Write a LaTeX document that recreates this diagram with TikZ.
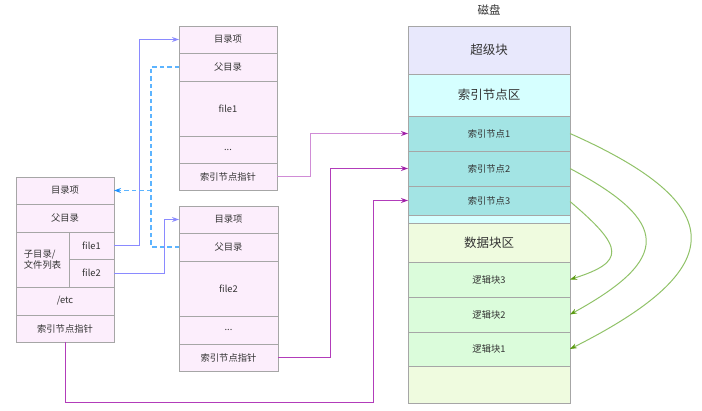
\documentclass[tikz,border=0pt]{standalone}
\usepackage{fontspec}
\setmainfont{Noto Sans CJK SC}
\usetikzlibrary{arrows.meta}
\definecolor{dirfill}{HTML}{FCEEFC}
\definecolor{cellline}{HTML}{A6A6A6}
\definecolor{superfill}{HTML}{E8E8FC}
\definecolor{inoarea}{HTML}{D6FFFF}
\definecolor{inofill}{HTML}{A3E4E4}
\definecolor{datafill}{HTML}{EFFBDF}
\definecolor{blkfill}{HTML}{DBFCDB}
\definecolor{txt}{HTML}{333333}
\definecolor{blueln}{HTML}{8A8AFF}
\definecolor{dashln}{HTML}{5CB4FF}
\definecolor{dashtip}{HTML}{1E90FF}
\definecolor{purpA}{HTML}{D08CD6}
\definecolor{purpB}{HTML}{B23CBA}
\definecolor{purptip}{HTML}{A020A8}
\definecolor{greenln}{HTML}{90C268}
\definecolor{greentip}{HTML}{5A9A10}
\begin{document}
\begin{tikzpicture}[x=1pt,y=-1pt,
  cell/.style={draw=cellline,line width=0.8pt,fill=dirfill,anchor=north west,inner sep=0pt,outer sep=0pt,text=txt,font=\fontsize{9.3}{11}\selectfont},
  big/.style={font=\fontsize{12.5}{14}\selectfont},
  bluearrow/.style={draw=blueln,line width=1pt,-{Stealth[length=7pt,width=5pt,fill=blueln,color=blueln]}},
  dasharrow/.style={draw=dashln,line width=1.1pt,dash pattern=on 4.5pt off 3pt},
  purparrow/.style={line width=1pt,-{Stealth[length=7pt,width=5pt,fill=purptip,color=purptip]}},
  greenarrow/.style={draw=greenln,line width=1pt,-{Stealth[length=7pt,width=5pt,fill=greentip,color=greentip]}}
]
\useasboundingbox (0,0) rectangle (702,411);

% left directory box
\node[cell,minimum width=98pt,minimum height=27pt] (L1) at (16,177) {目录项};
\node[cell,minimum width=98pt,minimum height=28pt] (L2) at (16,204) {父目录};
\node[cell,minimum width=53pt,minimum height=55pt,align=left] (L3) at (16,232) {子目录/\\文件列表};
\node[cell,minimum width=45pt,minimum height=27.5pt] (L4) at (69,232) {file1};
\node[cell,minimum width=45pt,minimum height=27.5pt] (L5) at (69,259.5) {file2};
\node[cell,minimum width=98pt,minimum height=28pt] (L6) at (16,287) {/etc};
\node[cell,minimum width=98pt,minimum height=27pt] (L7) at (16,315) {索引节点指针};

% top middle box
\node[cell,minimum width=98pt,minimum height=27pt] (T1) at (179,26) {目录项};
\node[cell,minimum width=98pt,minimum height=28pt] (T2) at (179,53) {父目录};
\node[cell,minimum width=98pt,minimum height=55pt] (T3) at (179,81) {file1};
\node[cell,minimum width=98pt,minimum height=27pt] (T4) at (179,136) {...};
\node[cell,minimum width=98pt,minimum height=27pt] (T5) at (179,163) {索引节点指针};

% bottom middle box
\node[cell,minimum width=99pt,minimum height=27pt] (B1) at (179,206) {目录项};
\node[cell,minimum width=99pt,minimum height=28pt] (B2) at (179,233) {父目录};
\node[cell,minimum width=99pt,minimum height=55pt] (B3) at (179,261) {file2};
\node[cell,minimum width=99pt,minimum height=28pt] (B4) at (179,316) {...};
\node[cell,minimum width=99pt,minimum height=27pt] (B5) at (179,344) {索引节点指针};

% disk
\node[text=txt,font=\fontsize{11.5}{13}\selectfont] (title) at (489,10) {磁盘};
\node[cell,big,fill=superfill,minimum width=162pt,minimum height=48pt] (D1) at (408,26) {超级块};
\node[cell,big,fill=inoarea,minimum width=162pt,minimum height=42pt] (D2) at (408,74) {索引节点区};
\node[cell,fill=inofill,minimum width=162pt,minimum height=35pt] (D3) at (408,116) {索引节点1};
\node[cell,fill=inofill,minimum width=162pt,minimum height=35pt] (D4) at (408,151) {索引节点2};
\node[cell,fill=inofill,minimum width=162pt,minimum height=29pt] (D5) at (408,186) {索引节点3};
\node[cell,fill=inoarea,minimum width=162pt,minimum height=8pt] (D6) at (408,215) {};
\node[cell,big,fill=datafill,minimum width=162pt,minimum height=39pt] (D7) at (408,223) {数据块区};
\node[cell,fill=blkfill,minimum width=162pt,minimum height=35pt] (D8) at (408,262) {逻辑块3};
\node[cell,fill=blkfill,minimum width=162pt,minimum height=35pt] (D9) at (408,297) {逻辑块2};
\node[cell,fill=blkfill,minimum width=162pt,minimum height=34pt] (D10) at (408,332) {逻辑块1};
\node[cell,fill=datafill,minimum width=162pt,minimum height=37pt] (D11) at (408,366) {};

% blue links file -> directory entries
\draw[bluearrow] (L4.east) -- ++(25,0) |- (T1.west);
\draw[bluearrow] (L5.east) -- ++(50,0) |- (B1.west);

% dashed parent links
\coordinate (j) at (151,190.5);
\draw[dasharrow] (T2.west) -| (j);
\draw[dasharrow] (B2.west) -| (j);
\draw[dasharrow,-{Stealth[length=7pt,width=5pt,fill=dashtip,color=dashtip]}] (j) -- (L1.east);

% purple inode pointers
\draw[purparrow,draw=purpA] (T5.east) -- ++(33,0) |- (D3.west);
\draw[purparrow,draw=purpB] (B5.east) -- ++(52,0) |- (D4.west);
\coordinate (c3) at (373,403);
\draw[purparrow,draw=purpB,color=purpB] (L7.south) |- (c3) |- (D5.west);

% green inode -> block curves
\draw[greenarrow] (D3.east) .. controls (731,205) and (731,268) .. (D10.east);
\draw[greenarrow] (D4.east) .. controls (671,222) and (671,259) .. (D9.east);
\draw[greenarrow] ([yshift=-1pt]D5.east) .. controls (625,248) and (625,262) .. (D8.east);
\end{tikzpicture}
\end{document}
